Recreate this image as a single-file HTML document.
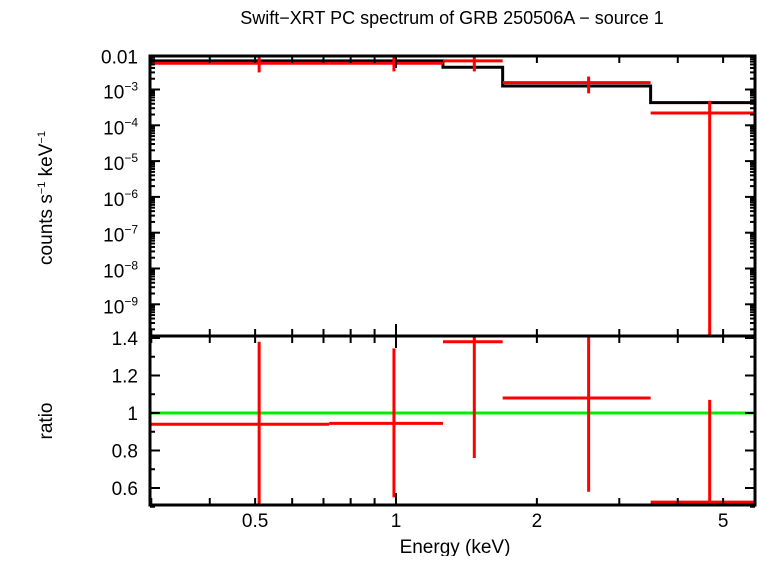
<!DOCTYPE html>
<html><head><meta charset="utf-8"><style>
body{margin:0;background:#fff;}
svg text{font-family:"Liberation Sans",sans-serif;fill:#000;}
</style></head><body>
<svg id="c" width="758" height="556" xmlns="http://www.w3.org/2000/svg">
<text x="452" y="24" font-size="18" text-anchor="middle">Swift−XRT PC spectrum of GRB 250506A − source 1</text>
<text x="455" y="553" font-size="19" text-anchor="middle">Energy (keV)</text>
<text transform="translate(52,198) rotate(-90)" font-size="19" text-anchor="middle">counts s<tspan font-size="11" dy="-7">−1</tspan><tspan dy="7"> keV</tspan><tspan font-size="11" dy="-7">−1</tspan></text>
<text transform="translate(52,421) rotate(-90)" font-size="19" text-anchor="middle">ratio</text>
<g id="g"></g>
</svg>
<script>
const binLo=[0.3,0.72,1.26,1.69,3.5];
const binHi=[0.72,1.26,1.69,3.5,5.85];
const binCenter=[0.51,0.99,1.47,2.58,4.68];
const counts=[0.0054,0.0054,0.0063,0.00155,0.00022];
const countsErrLo=[0.0030,0.0032,0.0032,0.00078,1e-10];
const countsErrHi=[0.0090,0.0090,0.0090,0.0023,0.00048];
const model=[0.0063,0.0063,0.0042,0.00125,0.00043];
const ratio=[0.94,0.945,1.38,1.08,0.525];
const ratioErrLo=[0.50,0.55,0.76,0.58,0.50];
const ratioErrHi=[1.38,1.345,1.45,1.45,1.07];
const topTicks=[-2,-3,-4,-5,-6,-7,-8,-9];
const ratioTicks=[0.6,0.8,1,1.2,1.4];
const xLabels=[0.5,1,2,5];

const L=150,R=755,T=56,M=336,B=505;
const x=e=>396+468*Math.log10(e);
const yTop=v=>89.5-35.8*(Math.log10(v)+3);
const yR=r=>413-187.5*(r-1);
const g=document.getElementById('g');
const NS='http://www.w3.org/2000/svg';
function el(t,a,name){const e=document.createElementNS(NS,t);for(const k in a)e.setAttribute(k,a[k]);


g.appendChild(e);return e;}
const cp=document.createElementNS(NS,'clipPath');cp.id='ct';cp.innerHTML='<rect x="150" y="56" width="605" height="280"/>';g.appendChild(cp);
const cb=document.createElementNS(NS,'clipPath');cb.id='cb';cb.innerHTML='<rect x="150" y="336" width="605" height="169"/>';g.appendChild(cb);
let d='';
for(let i=0;i<binLo.length;i++){d+=(i?'L':'M')+x(binLo[i])+','+yTop(model[i])+'L'+x(binHi[i])+','+yTop(model[i]);}
el('path',{d:d,stroke:'#000','stroke-width':3,fill:'none','clip-path':'url(#ct)'},'model-line');
for(let i=0;i<binLo.length;i++){
el('line',{x1:x(binLo[i]),x2:x(binHi[i]),y1:yTop(counts[i]),y2:yTop(counts[i]),stroke:'#f00','stroke-width':3,'clip-path':'url(#ct)'},'data-bin-'+(i+1)+'-xerr');
el('line',{x1:x(binCenter[i]),x2:x(binCenter[i]),y1:yTop(countsErrLo[i]),y2:yTop(countsErrHi[i]),stroke:'#f00','stroke-width':3,'clip-path':'url(#ct)'},'data-bin-'+(i+1)+'-yerr');
}
el('line',{x1:L,x2:R,y1:yR(1),y2:yR(1),stroke:'#0e0','stroke-width':3},'unity-line');
for(let i=0;i<binLo.length;i++){
el('line',{x1:x(binLo[i]),x2:x(binHi[i]),y1:yR(ratio[i]),y2:yR(ratio[i]),stroke:'#f00','stroke-width':3,'clip-path':'url(#cb)'},'ratio-bin-'+(i+1)+'-xerr');
el('line',{x1:x(binCenter[i]),x2:x(binCenter[i]),y1:yR(ratioErrLo[i]),y2:yR(ratioErrHi[i]),stroke:'#f00','stroke-width':3,'clip-path':'url(#cb)'},'ratio-bin-'+(i+1)+'-yerr');
}
const minorX=[0.3,0.4,0.5,0.6,0.7,0.8,0.9,2,3,4,5];
function tk(x1,y1,x2,y2,n){el('line',{x1:x1,y1:y1,x2:x2,y2:y2,stroke:'#000','stroke-width':2},n);}
[T,M,B].forEach((yy,j)=>{
 minorX.forEach(e=>{const X=x(e);if(j!=0)tk(X,yy,X,yy-7,'x-tick');if(j!=2)tk(X,yy,X,yy+7,'x-tick');});
 const X=x(1);if(j!=0)tk(X,yy,X,yy-12,'x-major-tick');if(j!=2)tk(X,yy,X,yy+12,'x-major-tick');
});
xLabels.forEach(e=>{const t=el('text',{x:x(e),y:527,'font-size':19,'text-anchor':'middle'},'x-tick-label');t.textContent=e;});
for(let dec=-10;dec<=-2;dec++){for(let k=1;k<10;k++){const v=k*Math.pow(10,dec);const Y=yTop(v);if(Y<T||Y>M)continue;const len=k==1?10:5;
 tk(L,Y,L+len,Y,'y-tick');tk(R,Y,R-len,Y,'y-tick');}}
topTicks.forEach(p=>{const Y=yTop(Math.pow(10,p));
 const t=el('text',{x:138,y:Y+(p==-2?7:9),'font-size':19,'text-anchor':'end'},'y-tick-label');
 if(p==-2){t.textContent='0.01';t.setAttribute('y',Y+10);}else{t.innerHTML='10<tspan font-size="12" dy="-8">−'+(-p)+'</tspan>';}
});
for(let r=0.5;r<=1.41;r+=0.1){const Y=yR(r);const maj=Math.abs(r*10%2)<0.01||Math.abs(r*10%2-2)<0.01;const len=maj?10:5;tk(L,Y,L+len,Y,'ratio-tick');tk(R,Y,R-len,Y,'ratio-tick');}
ratioTicks.forEach(r=>{const t=el('text',{x:138,y:yR(r)+7,'font-size':19,'text-anchor':'end'},'ratio-tick-label');t.textContent=r;});
el('rect',{x:L,y:T,width:R-L,height:M-T,fill:'none',stroke:'#000','stroke-width':3},'top-panel-frame');
el('rect',{x:L,y:M,width:R-L,height:B-M,fill:'none',stroke:'#000','stroke-width':3},'bottom-panel-frame');
</script>
</body></html>
